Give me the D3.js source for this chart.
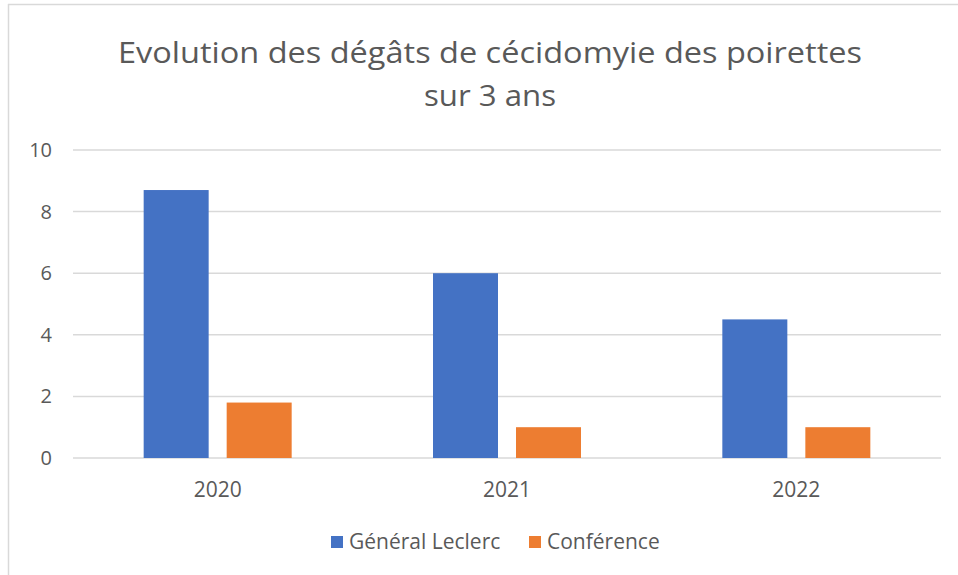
<!DOCTYPE html>
<html>
<head>
<meta charset="utf-8">
<script src="https://cdn.jsdelivr.net/npm/d3@7"></script>
<style>
  body { margin: 0; background: #fff; }
  svg { display: block; font-family: "Open Sans", sans-serif; }
</style>
</head>
<body>
<svg id="chart" width="958" height="575"></svg>
<script>
// data
var years = ['2020', '2021', '2022']
var seriesNames = ['Général Leclerc', 'Conférence']
var leclerc = [8.7, 6.0, 4.5]
var conference = [1.8, 1.0, 1.0]
var yTicks = [0, 2, 4, 6, 8, 10]
var titleLines = ['Evolution des dégâts de cécidomyie des poirettes', 'sur 3 ans']

var colors = ['#4472C4', '#ED7D31']
var textColor = '#595959'
var gridColor = '#d9d9d9'

var svg = d3.select('#chart')
var W = 958, H = 575
var plot = { left: 73, right: 941, top: 150, bottom: 458 }

// frame (the chart box is cropped on the right and bottom)
svg.append('rect').attr('width', W).attr('height', H).attr('fill', '#fff')
svg.append('line').attr('x1', 8).attr('x2', W).attr('y1', 4.5).attr('y2', 4.5)
  .attr('stroke', gridColor).attr('stroke-width', 1.5)
svg.append('line').attr('x1', 8.5).attr('x2', 8.5).attr('y1', 4).attr('y2', H)
  .attr('stroke', gridColor).attr('stroke-width', 1.5)

// title, fitted to the width of the original (narrow) font
var titleWidths = [744, 132]
var title = svg.append('g').attr('fill', textColor)
  .style('font-family', '"Open Sans", sans-serif').style('font-weight', 400)
titleLines.forEach(function (t, i) {
  title.append('text')
    .attr('x', 490).attr('y', 63 + i * 43)
    .attr('text-anchor', 'middle')
    .attr('textLength', titleWidths[i])
    .attr('lengthAdjust', 'spacingAndGlyphs')
    .style('font-size', '30px')
    .text(t)
})

var x0 = d3.scaleBand().domain(years).range([plot.left, plot.right])
var x1 = d3.scaleBand().domain(seriesNames).range([0, 148]).paddingInner(0.217)
var y = d3.scaleLinear().domain([0, 10]).range([plot.bottom, plot.top])

// grid
svg.append('g').selectAll('line').data(yTicks).join('line')
  .attr('x1', plot.left).attr('x2', plot.right)
  .attr('y1', function (d) { return y(d) }).attr('y2', function (d) { return y(d) })
  .attr('stroke', gridColor).attr('stroke-width', 1.5)

// y axis labels
var yAxis = svg.append('g').attr('transform', 'translate(' + (plot.left - 12) + ',0)')
  .call(d3.axisLeft(y).tickValues(yTicks).tickSize(0).tickPadding(9))
yAxis.select('.domain').remove()
yAxis.selectAll('text').attr('fill', textColor).style('font-size', '20px')
  .style('font-family', '"Open Sans", sans-serif')

// bars
var rows = years.map(function (yr, i) { return { year: yr, values: [leclerc[i], conference[i]] } })
var groups = svg.append('g').selectAll('g').data(rows).join('g')
  .attr('transform', function (d) { return 'translate(' + (x0(d.year) + x0.bandwidth() / 2 - 74) + ',0)' })
groups.selectAll('rect').data(function (d) {
  return d.values.map(function (v, j) { return { name: seriesNames[j], value: v, j: j } })
}).join('rect')
  .attr('x', function (d) { return x1(d.name) })
  .attr('width', x1.bandwidth())
  .attr('y', function (d) { return y(d.value) })
  .attr('height', function (d) { return y(0) - y(d.value) })
  .attr('fill', function (d) { return colors[d.j] })

// x axis labels
var xAxis = svg.append('g').attr('transform', 'translate(0,' + plot.bottom + ')')
  .call(d3.axisBottom(x0).tickSize(0).tickPadding(24))
xAxis.select('.domain').remove()
xAxis.selectAll('text').attr('fill', textColor).style('font-size', '21px')
  .style('font-family', '"Open Sans", sans-serif')

// legend
var legendX = [331, 529]
var legend = svg.append('g').selectAll('g').data(seriesNames).join('g')
  .attr('transform', function (d, i) { return 'translate(' + legendX[i] + ',542)' })
legend.append('rect').attr('x', 0).attr('y', -6).attr('width', 12).attr('height', 12)
  .attr('fill', function (d, i) { return colors[i] })
legend.append('text').attr('x', 18).attr('y', 0).attr('dy', '0.35em')
  .attr('fill', textColor).style('font-size', '21px').text(function (d) { return d })
</script>
</body>
</html>
